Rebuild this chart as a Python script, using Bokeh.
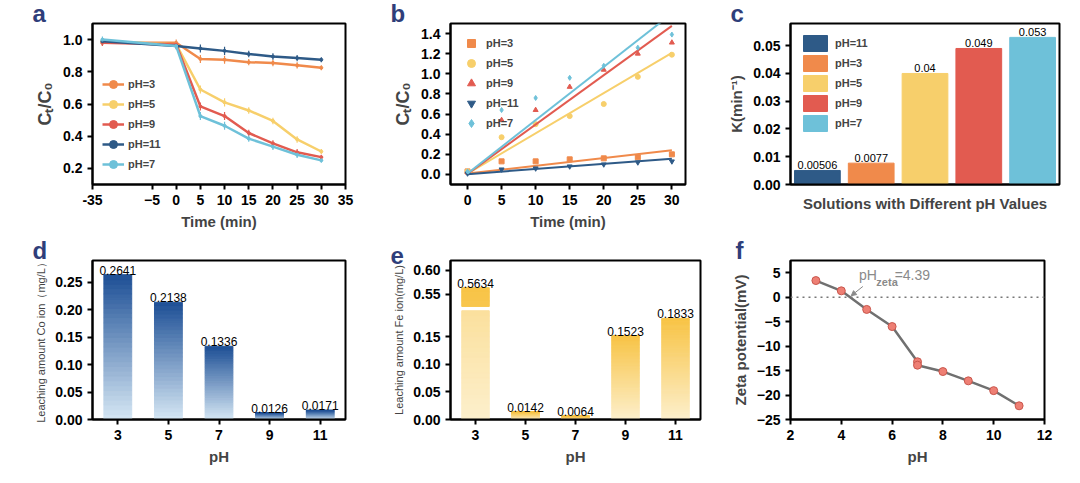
import numpy as np
from bokeh.plotting import figure
from bokeh.layouts import gridplot
from bokeh.core.properties import value
from bokeh.models import ColumnDataSource, Whisker, Legend, LegendItem, Span, Label, Arrow, NormalHead, FixedTicker, NumeralTickFormatter
from bokeh.embed import file_html
from bokeh.resources import INLINE

# ---------- data ----------
labels_a = ["pH=3", "pH=5", "pH=9", "pH=11", "pH=7"]
colors = {"pH=3": "#F08A4B", "pH=5": "#F7CF6B", "pH=9": "#E25B50", "pH=11": "#2E5A87", "pH=7": "#6EC1D9"}
time_a = [-30, 0, 5, 10, 15, 20, 25, 30]
ct_a = {
    "pH=3": [0.98, 0.98, 0.88, 0.875, 0.86, 0.855, 0.84, 0.825],
    "pH=5": [0.99, 0.97, 0.69, 0.61, 0.56, 0.495, 0.38, 0.305],
    "pH=9": [0.98, 0.97, 0.585, 0.525, 0.42, 0.355, 0.30, 0.27],
    "pH=11": [0.99, 0.96, 0.945, 0.93, 0.91, 0.895, 0.885, 0.875],
    "pH=7": [1.0, 0.96, 0.525, 0.465, 0.385, 0.335, 0.285, 0.25],
}
err_a = [0.02, 0.02, 0.025, 0.025, 0.02, 0.02, 0.02, 0.015]

time_b = [0, 5, 10, 15, 20, 25, 30]
kin_b = {
    "pH=3": [0.03, 0.13, 0.13, 0.15, 0.16, 0.17, 0.20],
    "pH=5": [0.03, 0.37, 0.50, 0.58, 0.70, 0.97, 1.19],
    "pH=9": [0.02, 0.54, 0.64, 0.87, 1.04, 1.20, 1.31],
    "pH=11": [0.01, 0.05, 0.06, 0.08, 0.10, 0.12, 0.13],
    "pH=7": [0.03, 0.64, 0.76, 0.96, 1.08, 1.26, 1.39],
}
markers_b = {"pH=3": "square", "pH=5": "circle", "pH=9": "triangle", "pH=11": "inverted_triangle", "pH=7": "diamond"}

cats_c = ["pH=11", "pH=3", "pH=5", "pH=9", "pH=7"]
k_c = [0.00506, 0.0077, 0.04, 0.049, 0.053]
k_lbl = ["0.00506", "0.0077", "0.04", "0.049", "0.053"]

ph_d = ["3", "5", "7", "9", "11"]
co_d = [0.2641, 0.2138, 0.1336, 0.0126, 0.0171]
fe_e = [0.5634, 0.0142, 0.0064, 0.1523, 0.1833]

ph_f = [3, 4, 5, 6, 7, 7, 8, 9, 10, 11]
zeta_f = [3.4, 1.3, -2.5, -6.0, -13.2, -13.9, -15.2, -17.1, -19.1, -22.2]

FONT = "Liberation Sans"

def style(p, letter):
    p.outline_line_color = "black"
    p.outline_line_width = 2
    p.xgrid.visible = False
    p.ygrid.visible = False
    for ax in [p.xaxis[0], p.yaxis[0]]:
        ax.axis_label_text_font = FONT
        ax.axis_label_text_font_style = "bold"
        ax.axis_label_text_font_size = "15px"
        ax.major_label_text_font = FONT
        ax.major_label_text_font_style = "bold"
        ax.major_label_text_font_size = "14px"
        ax.major_label_text_color = "black"
        ax.axis_line_width = 2
        ax.major_tick_line_width = 2
        ax.minor_tick_line_color = None
        ax.major_tick_out = 5
        ax.major_tick_in = 0
    p.title.text = letter
    p.title.text_font = FONT
    p.title.text_font_size = "24px"
    p.title.text_color = "#2F3E7A"
    p.title.offset = -60
    p.title.standoff = -6

def legend(p, items, loc):
    lg = Legend(items=items, location=loc, background_fill_alpha=0, border_line_color=None,
                label_text_font=FONT, label_text_font_style="bold", label_text_font_size="11px",
                spacing=-4, glyph_width=22, label_standoff=4, padding=2)
    p.add_layout(lg)

# ---------- a ----------
def map_a(v):
    if v >= -5:
        return v
    return -5 + (v + 5) * (12.3 / 30)
pa = figure(width=360, height=232, x_range=(map_a(-35), 35), y_range=(0.1, 1.1),
            output_backend="svg", toolbar_location=None, min_border_left=85, min_border_right=2, min_border_top=20)
style(pa, "a")
items = []
xa = [map_a(t) for t in time_a]
for lab in labels_a:
    y = ct_a[lab]
    src = ColumnDataSource(dict(x=xa, y=y, lo=[a - e for a, e in zip(y, err_a)], hi=[a + e for a, e in zip(y, err_a)]))
    r = pa.line("x", "y", source=src, color=colors[lab], line_width=2.5)
    s = pa.scatter("x", "y", source=src, color=colors[lab], size=3)
    pa.add_layout(Whisker(source=src, base="x", lower="lo", upper="hi", line_color=colors[lab],
                          upper_head=None, lower_head=None, line_width=1.2))
    items.append(LegendItem(label=lab, renderers=[r, s]))
legend(pa, items, "bottom_left")
pa.xaxis.ticker = FixedTicker(ticks=[map_a(-35)] + [-5, 0, 5, 10, 15, 20, 25, 30, 35])
pa.xaxis.major_label_overrides = {map_a(-35): "-35"}
pa.yaxis.ticker = FixedTicker(ticks=[0.2, 0.4, 0.6, 0.8, 1.0])
pa.yaxis.formatter = NumeralTickFormatter(format="0.0")
pa.xaxis.axis_label = "Time (min)"
pa.yaxis.axis_label = "Cₜ/C₀"
pa.yaxis.axis_label_text_font_size = "18px"

# ---------- b ----------
pb = figure(width=345, height=232, x_range=(-2.5, 32), y_range=(-0.1, 1.5),
            output_backend="svg", toolbar_location=None, min_border_left=90, min_border_right=8, min_border_top=20)
style(pb, "b")
items = []
kmap = dict(zip(cats_c, k_c))
for lab in labels_a:
    s = pb.scatter(time_b, kin_b[lab], marker=markers_b[lab], color=colors[lab], size=5)
    t = np.array([time_b[0], time_b[-1]], dtype=float)
    pb.line(t, kmap[lab] * t + kin_b[lab][0] * 0.3, color=colors[lab], line_width=2)
    items.append(LegendItem(label=lab, renderers=[s]))
legend(pb, items, "top_left")
pb.xaxis.ticker = FixedTicker(ticks=time_b)
pb.yaxis.ticker = FixedTicker(ticks=[0, 0.2, 0.4, 0.6, 0.8, 1.0, 1.2, 1.4])
pb.yaxis.formatter = NumeralTickFormatter(format="0.0")
pb.xaxis.axis_label = "Time (min)"
pb.yaxis.axis_label = "Cₜ/C₀"
pb.yaxis.axis_label_text_font_size = "18px"

# ---------- c ----------
pc = figure(width=359, height=232, x_range=cats_c, y_range=(0, 0.058),
            output_backend="svg", toolbar_location=None, min_border_left=68, min_border_right=8, min_border_top=20)
style(pc, "c")
srcc = ColumnDataSource(dict(x=cats_c, top=k_c, c=[colors[c] for c in cats_c], lbl=k_lbl))
pc.vbar(x="x", top="top", width=0.85, color="c", source=srcc, legend_field="x")
pc.text(x="x", y="top", text="lbl", source=srcc, text_align="center", text_baseline="bottom",
        text_font_size="11px", y_offset=-1, text_font=value(FONT))
pc.legend.location = "top_left"
pc.legend.background_fill_alpha = 0
pc.legend.border_line_color = None
pc.legend.label_text_font_style = "bold"
pc.legend.label_text_font_size = "11px"
pc.legend.spacing = -5
pc.legend.glyph_width = 30
pc.xaxis.major_label_text_font_size = "0px"
pc.xaxis.major_tick_line_color = None
pc.xaxis.axis_label = "Solutions with Different pH Values"
pc.yaxis.axis_label = "K(min⁻¹)"
pc.yaxis.ticker = FixedTicker(ticks=[0, 0.01, 0.02, 0.03, 0.04, 0.05])
pc.yaxis.formatter = NumeralTickFormatter(format="0.00")

def gradient_bars(p, xs, tops, c_top, c_bot, n=24, ymap=lambda v: v, skip=None):
    ct = np.array(c_top, float); cb = np.array(c_bot, float)
    bx, bb, bt, bc = [], [], [], []
    for x, top in zip(xs, tops):
        edges = np.linspace(0, top, n + 1)
        for i in range(n):
            f = (i + 0.5) / n
            col = cb + (ct - cb) * f
            lo, hi = edges[i], edges[i + 1]
            if skip is not None and lo >= skip[0] and hi <= skip[1]:
                continue
            bx.append(x); bb.append(ymap(lo)); bt.append(ymap(hi))
            bc.append("#%02x%02x%02x" % tuple(int(v) for v in col))
    p.vbar(x=bx, bottom=bb, top=bt, width=0.55, fill_color=bc, line_color=bc, line_width=1)

# ---------- d ----------
pd_ = figure(width=360, height=235, x_range=ph_d, y_range=(0, 0.29),
             output_backend="svg", toolbar_location=None, min_border_left=92, min_border_right=15, min_border_top=28)
style(pd_, "d")
gradient_bars(pd_, ph_d, co_d, (30, 80, 150), (215, 232, 245), n=30)
pd_.text(x=ph_d, y=co_d, text=[str(v) for v in co_d], text_align="center", text_baseline="bottom",
         text_font_size="12px", text_font=value(FONT))
pd_.yaxis.ticker = FixedTicker(ticks=[0, 0.05, 0.10, 0.15, 0.20, 0.25])
pd_.yaxis.formatter = NumeralTickFormatter(format="0.00")
pd_.xaxis.axis_label = "pH"
pd_.yaxis.axis_label = "Leaching amount Co ion（mg/L）"
pd_.yaxis.axis_label_text_font_size = "11px"
pd_.yaxis.axis_label_text_font_style = "normal"

# ---------- e ----------
def map_e(v):
    if v <= 0.2:
        return v
    if v < 0.53:
        return 0.205
    return 0.21 + (v - 0.53) * 0.87
pe = figure(width=360, height=235, x_range=ph_d, y_range=(0, map_e(0.62)),
            output_backend="svg", toolbar_location=None, min_border_left=75, min_border_right=20, min_border_top=18)
style(pe, "e")
gradient_bars(pe, ph_d, fe_e, (248, 196, 70), (253, 240, 205), n=60, ymap=map_e, skip=(0.195, 0.535))
pe.text(x=ph_d, y=[map_e(v) for v in fe_e], text=[str(v) for v in fe_e], text_align="center",
        text_baseline="bottom", text_font_size="12px", text_font=value(FONT))
ticks_e = [0, 0.05, 0.10, 0.15, 0.55, 0.60]
pe.yaxis.ticker = FixedTicker(ticks=[map_e(t) for t in ticks_e])
pe.yaxis.major_label_overrides = {map_e(t): "%.2f" % t for t in ticks_e}
pe.xaxis.axis_label = "pH"
pe.yaxis.axis_label = "Leaching amount Fe ion(mg/L)"
pe.yaxis.axis_label_text_font_size = "11px"
pe.yaxis.axis_label_text_font_style = "normal"

# ---------- f ----------
pf = figure(width=344, height=235, x_range=(2, 12), y_range=(-25, 7.5),
            output_backend="svg", toolbar_location=None, min_border_left=70, min_border_right=20, min_border_top=6)
style(pf, "f")
pf.title.offset = -55
pf.add_layout(Span(location=0, dimension="width", line_dash="2 4", line_color="#777777", line_width=1.5))
pf.line(ph_f, zeta_f, color="#707070", line_width=2.5)
pf.scatter(ph_f, zeta_f, size=8, fill_color="#EE7F74", line_color="#C9574D")
pf.add_layout(Label(x=4.7, y=2.8, text="pH", text_color="#8a8a8a", text_font_size="14px", text_font=FONT))
pf.add_layout(Label(x=5.38, y=1.8, text="zeta", text_color="#8a8a8a", text_font_size="11px", text_font=FONT, text_font_style="bold"))
pf.add_layout(Label(x=6.1, y=2.8, text="=4.39", text_color="#8a8a8a", text_font_size="14px", text_font=FONT))
pf.add_layout(Arrow(end=NormalHead(size=5, line_color="#8a8a8a", fill_color="#8a8a8a"), x_start=4.85, y_start=2.2,
                    x_end=4.39, y_end=0.3, line_color="#8a8a8a", line_width=1))
pf.xaxis.ticker = FixedTicker(ticks=[2, 4, 6, 8, 10, 12])
pf.yaxis.ticker = FixedTicker(ticks=[5, 0, -5, -10, -15, -20, -25])
pf.xaxis.axis_label = "pH"
pf.yaxis.axis_label = "Zeta potential(mV)"

grid = gridplot([[pa, pb, pc], [pd_, pe, pf]], toolbar_location=None)
open("out.html", "w").write(file_html(grid, INLINE))
